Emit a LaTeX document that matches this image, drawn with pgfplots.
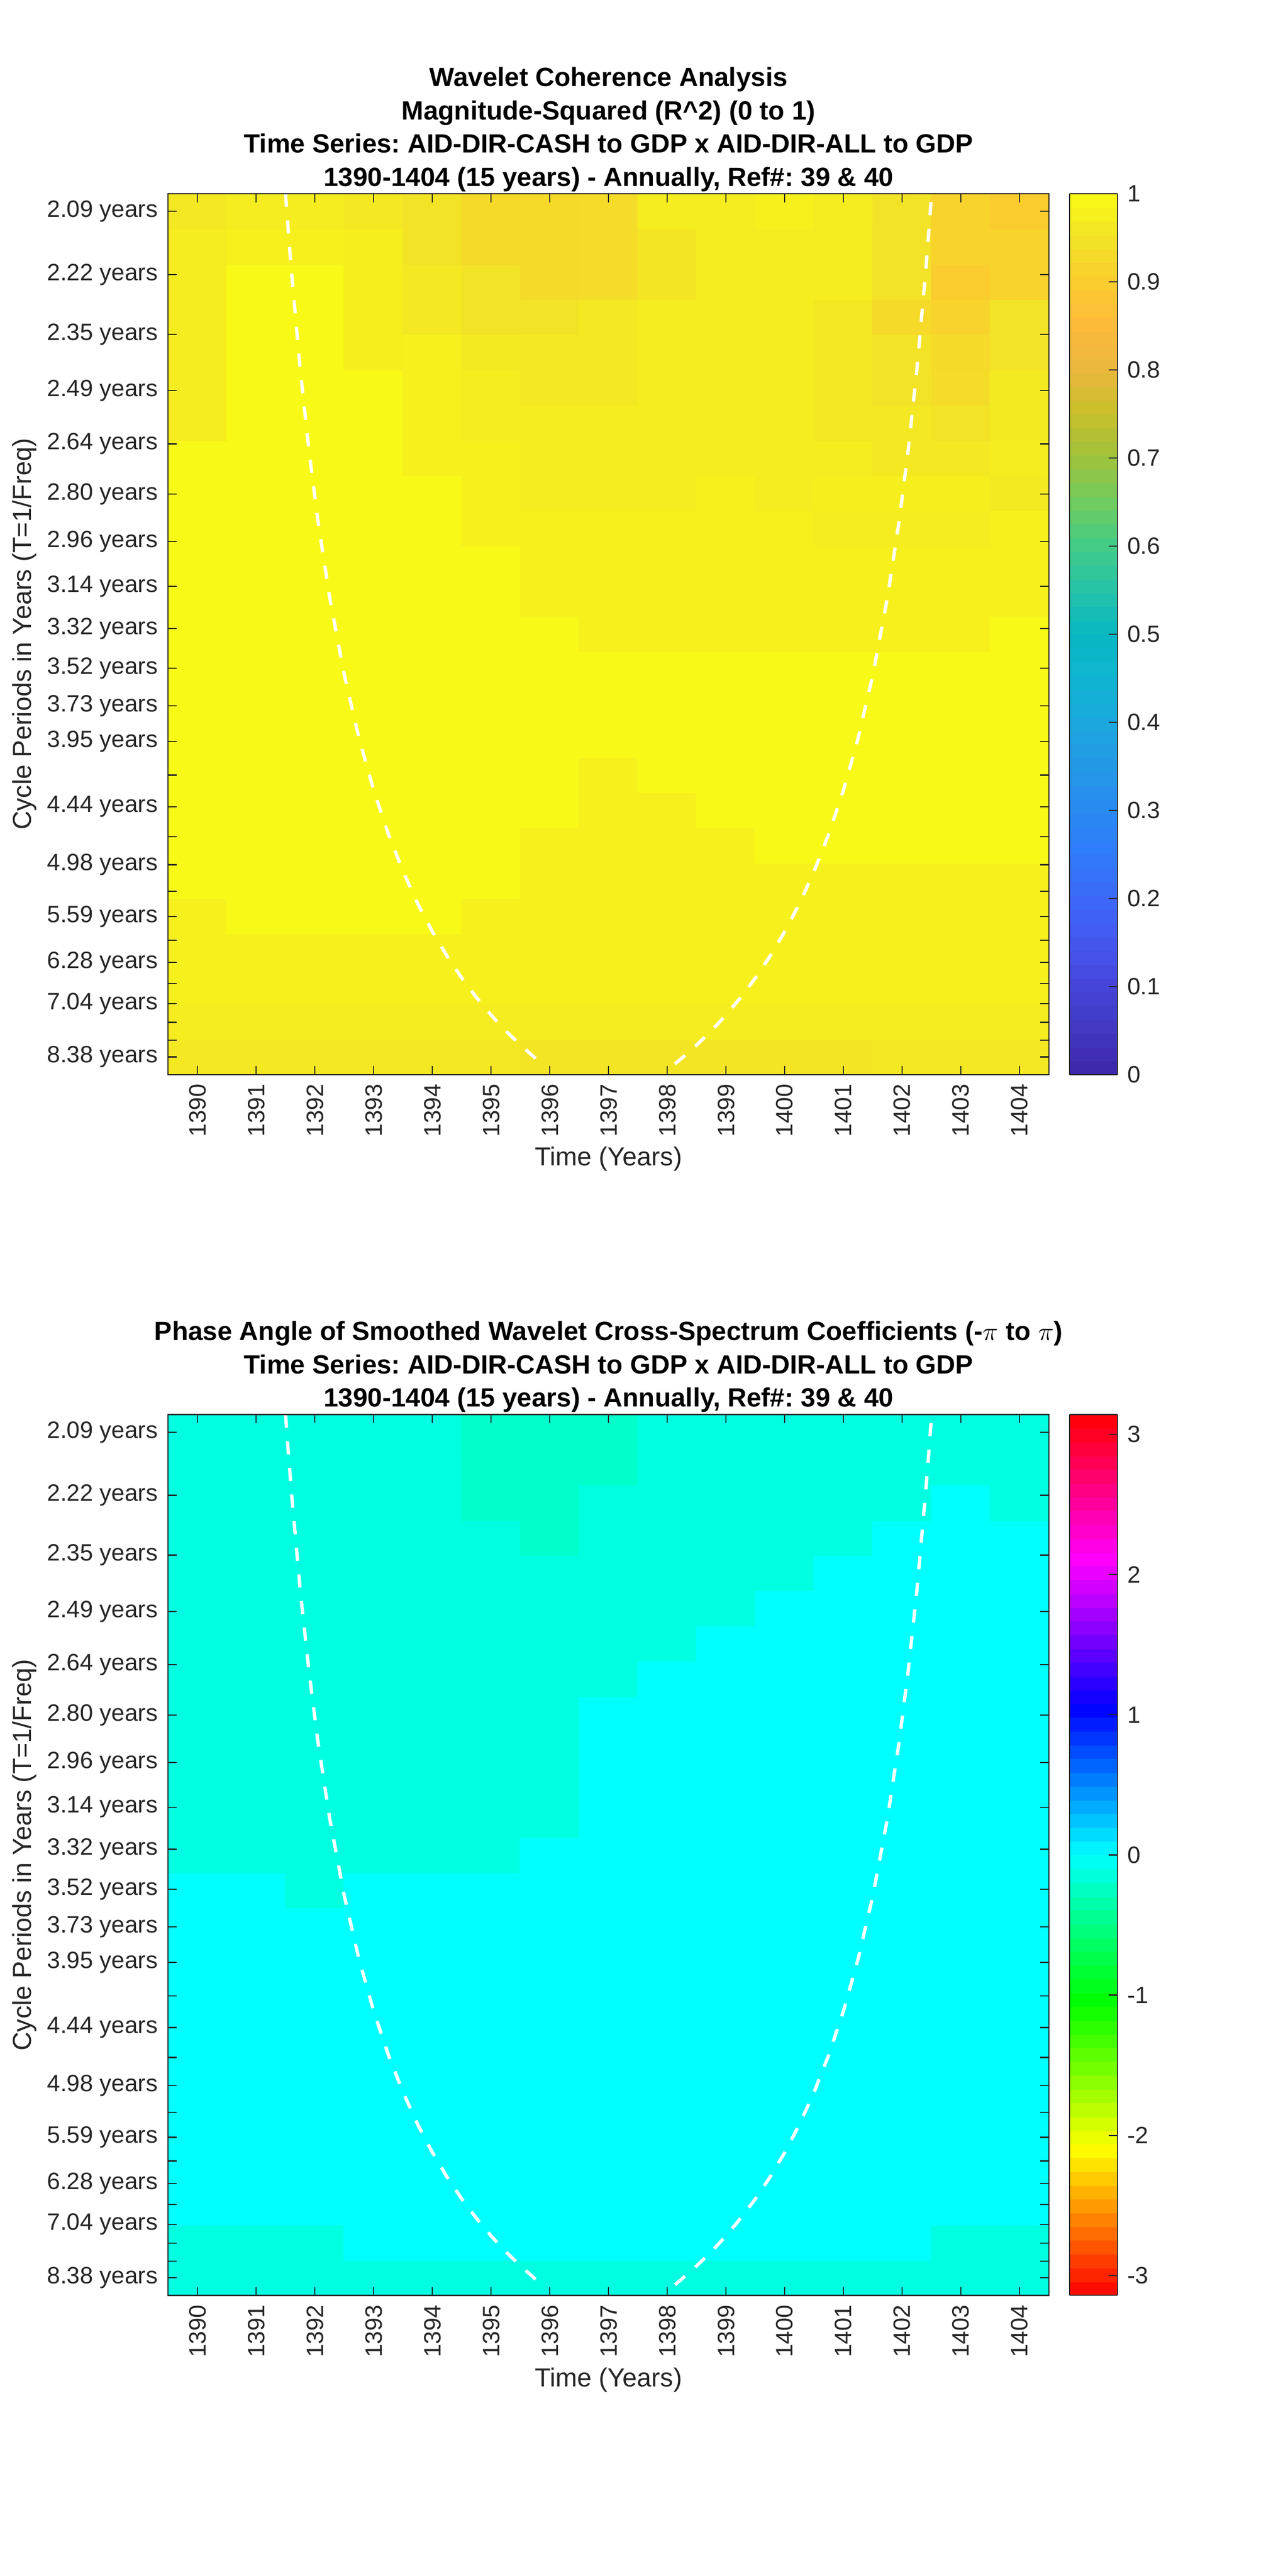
\documentclass[border=0pt]{standalone}
\usepackage{fontspec}
\setmainfont{Liberation Sans}
\usepackage{pgfplots}
\pgfplotsset{compat=1.18}
\frenchspacing
\definecolor{axgray}{HTML}{262626}
\pgfplotsset{
  colormap={parula}{
    rgb=(0.2422,0.1504,0.6603) rgb=(0.26,0.22,0.76) rgb=(0.27,0.27,0.85)
    rgb=(0.27,0.34,0.94) rgb=(0.24,0.41,0.98) rgb=(0.19,0.48,0.98)
    rgb=(0.16,0.54,0.94) rgb=(0.14,0.60,0.90) rgb=(0.11,0.66,0.87)
    rgb=(0.06,0.71,0.82) rgb=(0.03,0.72,0.76) rgb=(0.15,0.76,0.66)
    rgb=(0.26,0.80,0.53) rgb=(0.44,0.80,0.37) rgb=(0.62,0.76,0.24)
    rgb=(0.78,0.75,0.17) rgb=(0.92,0.72,0.24) rgb=(0.99,0.73,0.23)
    rgb=(0.98,0.80,0.18) rgb=(0.95,0.89,0.15) rgb=(0.9769,0.9839,0.0805)},
  colormap={hsvm}{rgb=(1,0,0) rgb=(1,1,0) rgb=(0,1,0) rgb=(0,1,1) rgb=(0,0,1) rgb=(1,0,1) rgb=(1,0,0)},
  wc/.style={
    scale only axis, width=372.44pt, height=372.44pt,
    xmin=1389.5, xmax=1404.5, ymin=-0.5, ymax=24.5,
    axis on top,
    xtick={1390,1391,1392,1393,1394,1395,1396,1397,1398,1399,1400,1401,1402,1403,1404},
    xticklabels={1390,1391,1392,1393,1394,1395,1396,1397,1398,1399,1400,1401,1402,1403,1404},
    ytick={0,0.476,0.980,1.514,2.079,2.679,3.314,3.986,4.699,5.454,6.254,7.102,8.000,8.951,9.960,11.027,12.159,13.357,14.627,15.973,17.399,18.909,20.509,22.204,24},
    yticklabels={8.38 years,{},{},7.04 years,{},6.28 years,{},5.59 years,{},4.98 years,{},4.44 years,{},3.95 years,3.73 years,3.52 years,3.32 years,3.14 years,2.96 years,2.80 years,2.64 years,2.49 years,2.35 years,2.22 years,2.09 years},
    tick align=inside, major tick length=3.66pt,
    axis line style={axgray, line width=0.5pt},
    tick style={axgray, line width=0.5pt},
    tick label style={font=\fontsize{10}{12}\selectfont, text=axgray},
    xticklabel style={rotate=90, anchor=east, inner sep=0pt, inner xsep=3.8pt},
    yticklabel style={anchor=east, inner sep=0pt, inner xsep=4.2pt},
    xlabel={Time (Years)},
    ylabel={Cycle Periods in Years (T=1/Freq)},
    label style={font=\fontsize{11}{13}\selectfont, text=axgray},
    xlabel style={at={(axis description cs:0.5,-0.0959)}, anchor=center},
    ylabel style={at={(axis description cs:-0.1628,0.5)}, anchor=center},
    colorbar,
    colorbar sampled,
    colorbar shift/.style={xshift=8.71pt},
  },
  coi/.style={white, line width=1.4pt, dash pattern=on 5.6pt off 5.7pt},
}
\begin{document}
\begin{tikzpicture}
\useasboundingbox (0,0) rectangle (544.4pt,-1089.1pt);
\fill[white] (0,0) rectangle (544.4pt,-1089.1pt);
% ---------- titles ----------
\begin{scope}[every node/.style={anchor=base, font=\fontsize{11.15}{13}\selectfont\bfseries}]
\node at (257.29pt,-36.58pt) {Wavelet Coherence Analysis};
\node at (257.29pt,-50.61pt) {Magnitude-Squared (R\textasciicircum{}2) (0 to 1)};
\node at (257.29pt,-64.63pt) {Time Series: AID-DIR-CASH to GDP x AID-DIR-ALL to GDP};
\node at (257.29pt,-78.65pt) {1390-1404 (15 years) - Annually, Ref\#: 39 \& 40};
\node at (257.29pt,-566.76pt) {Phase Angle of Smoothed Wavelet Cross-Spectrum Coefficients (-$\pi$ to $\pi$)};
\node at (257.29pt,-580.78pt) {Time Series: AID-DIR-CASH to GDP x AID-DIR-ALL to GDP};
\node at (257.29pt,-594.81pt) {1390-1404 (15 years) - Annually, Ref\#: 39 \& 40};
\end{scope}
% ---------- top axis ----------
\begin{axis}[wc, at={(71.07pt,-81.87pt)}, anchor=north west,
  colormap name=parula, point meta min=0, point meta max=1,
  colorbar style={at={(parent axis.north east)}, anchor=north west,
    width=20.2pt, samples=65,
    ytick={0,0.1,0.2,0.3,0.4,0.5,0.6,0.7,0.8,0.9,1},
    yticklabels={0,0.1,0.2,0.3,0.4,0.5,0.6,0.7,0.8,0.9,1},
    ytick pos=right, yticklabel pos=right,
    tick align=inside, major tick length=3.66pt,
    axis line style={axgray, line width=0.5pt},
    tick style={axgray, line width=0.5pt},
    yticklabel style={font=\fontsize{10}{12}\selectfont, text=axgray, anchor=west, inner sep=0pt, inner xsep=4pt}},
]
\addplot[matrix plot*, mesh/cols=15, point meta=explicit] table[row sep=\\, meta=c] {
x y c\\
1390 0 0.96\\ 1391 0 0.96\\ 1392 0 0.96\\ 1393 0 0.96\\ 1394 0 0.96\\ 1395 0 0.96\\ 1396 0 0.955\\ 1397 0 0.955\\ 1398 0 0.955\\ 1399 0 0.955\\ 1400 0 0.955\\ 1401 0 0.955\\ 1402 0 0.96\\ 1403 0 0.96\\ 1404 0 0.96\\
1390 1 0.97\\ 1391 1 0.97\\ 1392 1 0.97\\ 1393 1 0.97\\ 1394 1 0.97\\ 1395 1 0.97\\ 1396 1 0.97\\ 1397 1 0.97\\ 1398 1 0.97\\ 1399 1 0.97\\ 1400 1 0.97\\ 1401 1 0.97\\ 1402 1 0.97\\ 1403 1 0.97\\ 1404 1 0.97\\
1390 2 0.98\\ 1391 2 0.98\\ 1392 2 0.98\\ 1393 2 0.98\\ 1394 2 0.98\\ 1395 2 0.98\\ 1396 2 0.98\\ 1397 2 0.98\\ 1398 2 0.98\\ 1399 2 0.98\\ 1400 2 0.98\\ 1401 2 0.98\\ 1402 2 0.98\\ 1403 2 0.98\\ 1404 2 0.98\\
1390 3 0.98\\ 1391 3 0.98\\ 1392 3 0.98\\ 1393 3 0.98\\ 1394 3 0.98\\ 1395 3 0.98\\ 1396 3 0.98\\ 1397 3 0.98\\ 1398 3 0.98\\ 1399 3 0.98\\ 1400 3 0.98\\ 1401 3 0.98\\ 1402 3 0.98\\ 1403 3 0.98\\ 1404 3 0.98\\
1390 4 0.98\\ 1391 4 0.995\\ 1392 4 0.995\\ 1393 4 0.995\\ 1394 4 0.995\\ 1395 4 0.98\\ 1396 4 0.98\\ 1397 4 0.98\\ 1398 4 0.98\\ 1399 4 0.98\\ 1400 4 0.98\\ 1401 4 0.98\\ 1402 4 0.98\\ 1403 4 0.98\\ 1404 4 0.98\\
1390 5 0.995\\ 1391 5 0.995\\ 1392 5 0.995\\ 1393 5 0.995\\ 1394 5 0.995\\ 1395 5 0.995\\ 1396 5 0.98\\ 1397 5 0.98\\ 1398 5 0.98\\ 1399 5 0.98\\ 1400 5 0.98\\ 1401 5 0.98\\ 1402 5 0.98\\ 1403 5 0.98\\ 1404 5 0.98\\
1390 6 0.995\\ 1391 6 0.995\\ 1392 6 0.995\\ 1393 6 0.995\\ 1394 6 0.995\\ 1395 6 0.995\\ 1396 6 0.98\\ 1397 6 0.98\\ 1398 6 0.98\\ 1399 6 0.98\\ 1400 6 0.995\\ 1401 6 0.995\\ 1402 6 0.995\\ 1403 6 0.995\\ 1404 6 0.995\\
1390 7 0.995\\ 1391 7 0.995\\ 1392 7 0.995\\ 1393 7 0.995\\ 1394 7 0.995\\ 1395 7 0.995\\ 1396 7 0.995\\ 1397 7 0.98\\ 1398 7 0.98\\ 1399 7 0.995\\ 1400 7 0.995\\ 1401 7 0.995\\ 1402 7 0.995\\ 1403 7 0.995\\ 1404 7 0.995\\
1390 8 0.995\\ 1391 8 0.995\\ 1392 8 0.995\\ 1393 8 0.995\\ 1394 8 0.995\\ 1395 8 0.995\\ 1396 8 0.995\\ 1397 8 0.98\\ 1398 8 0.995\\ 1399 8 0.995\\ 1400 8 0.995\\ 1401 8 0.995\\ 1402 8 0.995\\ 1403 8 0.995\\ 1404 8 0.995\\
1390 9 0.995\\ 1391 9 0.995\\ 1392 9 0.995\\ 1393 9 0.995\\ 1394 9 0.995\\ 1395 9 0.995\\ 1396 9 0.995\\ 1397 9 0.995\\ 1398 9 0.995\\ 1399 9 0.995\\ 1400 9 0.995\\ 1401 9 0.995\\ 1402 9 0.995\\ 1403 9 0.995\\ 1404 9 0.995\\
1390 10 0.995\\ 1391 10 0.995\\ 1392 10 0.995\\ 1393 10 0.995\\ 1394 10 0.995\\ 1395 10 0.995\\ 1396 10 0.995\\ 1397 10 0.995\\ 1398 10 0.995\\ 1399 10 0.995\\ 1400 10 0.995\\ 1401 10 0.995\\ 1402 10 0.995\\ 1403 10 0.995\\ 1404 10 0.995\\
1390 11 0.995\\ 1391 11 0.995\\ 1392 11 0.995\\ 1393 11 0.995\\ 1394 11 0.995\\ 1395 11 0.995\\ 1396 11 0.995\\ 1397 11 0.995\\ 1398 11 0.995\\ 1399 11 0.995\\ 1400 11 0.995\\ 1401 11 0.995\\ 1402 11 0.995\\ 1403 11 0.995\\ 1404 11 0.995\\
1390 12 0.995\\ 1391 12 0.995\\ 1392 12 0.995\\ 1393 12 0.995\\ 1394 12 0.995\\ 1395 12 0.995\\ 1396 12 0.995\\ 1397 12 0.98\\ 1398 12 0.98\\ 1399 12 0.98\\ 1400 12 0.98\\ 1401 12 0.98\\ 1402 12 0.98\\ 1403 12 0.98\\ 1404 12 0.995\\
1390 13 0.995\\ 1391 13 0.995\\ 1392 13 0.995\\ 1393 13 0.995\\ 1394 13 0.995\\ 1395 13 0.995\\ 1396 13 0.98\\ 1397 13 0.98\\ 1398 13 0.98\\ 1399 13 0.98\\ 1400 13 0.98\\ 1401 13 0.98\\ 1402 13 0.98\\ 1403 13 0.98\\ 1404 13 0.98\\
1390 14 0.995\\ 1391 14 0.995\\ 1392 14 0.995\\ 1393 14 0.995\\ 1394 14 0.995\\ 1395 14 0.995\\ 1396 14 0.98\\ 1397 14 0.98\\ 1398 14 0.98\\ 1399 14 0.98\\ 1400 14 0.98\\ 1401 14 0.98\\ 1402 14 0.98\\ 1403 14 0.98\\ 1404 14 0.98\\
1390 15 0.995\\ 1391 15 0.995\\ 1392 15 0.995\\ 1393 15 0.995\\ 1394 15 0.995\\ 1395 15 0.98\\ 1396 15 0.98\\ 1397 15 0.98\\ 1398 15 0.98\\ 1399 15 0.98\\ 1400 15 0.98\\ 1401 15 0.97\\ 1402 15 0.97\\ 1403 15 0.97\\ 1404 15 0.98\\
1390 16 0.995\\ 1391 16 0.995\\ 1392 16 0.995\\ 1393 16 0.995\\ 1394 16 0.995\\ 1395 16 0.98\\ 1396 16 0.97\\ 1397 16 0.97\\ 1398 16 0.97\\ 1399 16 0.98\\ 1400 16 0.97\\ 1401 16 0.975\\ 1402 16 0.975\\ 1403 16 0.975\\ 1404 16 0.965\\
1390 17 0.995\\ 1391 17 0.995\\ 1392 17 0.995\\ 1393 17 0.995\\ 1394 17 0.98\\ 1395 17 0.98\\ 1396 17 0.97\\ 1397 17 0.97\\ 1398 17 0.97\\ 1399 17 0.97\\ 1400 17 0.97\\ 1401 17 0.97\\ 1402 17 0.96\\ 1403 17 0.96\\ 1404 17 0.97\\
1390 18 0.97\\ 1391 18 0.995\\ 1392 18 0.995\\ 1393 18 0.995\\ 1394 18 0.98\\ 1395 18 0.97\\ 1396 18 0.97\\ 1397 18 0.97\\ 1398 18 0.97\\ 1399 18 0.97\\ 1400 18 0.97\\ 1401 18 0.96\\ 1402 18 0.96\\ 1403 18 0.95\\ 1404 18 0.965\\
1390 19 0.97\\ 1391 19 0.995\\ 1392 19 0.995\\ 1393 19 0.995\\ 1394 19 0.98\\ 1395 19 0.97\\ 1396 19 0.96\\ 1397 19 0.96\\ 1398 19 0.97\\ 1399 19 0.97\\ 1400 19 0.97\\ 1401 19 0.96\\ 1402 19 0.95\\ 1403 19 0.935\\ 1404 19 0.965\\
1390 20 0.97\\ 1391 20 0.995\\ 1392 20 0.995\\ 1393 20 0.975\\ 1394 20 0.98\\ 1395 20 0.965\\ 1396 20 0.96\\ 1397 20 0.96\\ 1398 20 0.97\\ 1399 20 0.97\\ 1400 20 0.97\\ 1401 20 0.96\\ 1402 20 0.95\\ 1403 20 0.93\\ 1404 20 0.95\\
1390 21 0.97\\ 1391 21 0.995\\ 1392 21 0.995\\ 1393 21 0.975\\ 1394 21 0.96\\ 1395 21 0.95\\ 1396 21 0.95\\ 1397 21 0.96\\ 1398 21 0.97\\ 1399 21 0.97\\ 1400 21 0.97\\ 1401 21 0.96\\ 1402 21 0.93\\ 1403 21 0.915\\ 1404 21 0.95\\
1390 22 0.97\\ 1391 22 0.995\\ 1392 22 0.995\\ 1393 22 0.975\\ 1394 22 0.96\\ 1395 22 0.95\\ 1396 22 0.93\\ 1397 22 0.935\\ 1398 22 0.955\\ 1399 22 0.97\\ 1400 22 0.97\\ 1401 22 0.97\\ 1402 22 0.95\\ 1403 22 0.90\\ 1404 22 0.915\\
1390 23 0.97\\ 1391 23 0.98\\ 1392 23 0.98\\ 1393 23 0.975\\ 1394 23 0.95\\ 1395 23 0.93\\ 1396 23 0.93\\ 1397 23 0.935\\ 1398 23 0.955\\ 1399 23 0.97\\ 1400 23 0.97\\ 1401 23 0.97\\ 1402 23 0.95\\ 1403 23 0.915\\ 1404 23 0.915\\
1390 24 0.96\\ 1391 24 0.97\\ 1392 24 0.97\\ 1393 24 0.96\\ 1394 24 0.95\\ 1395 24 0.93\\ 1396 24 0.93\\ 1397 24 0.935\\ 1398 24 0.97\\ 1399 24 0.97\\ 1400 24 0.98\\ 1401 24 0.97\\ 1402 24 0.95\\ 1403 24 0.915\\ 1404 24 0.90\\
};
\addplot[coi] coordinates {(1391.50,24.50) (1391.55,23.36) (1391.60,22.30) (1391.75,19.51) (1391.90,17.19) (1392.05,15.23) (1392.25,13.05) (1392.50,10.84) (1392.75,9.05) (1393.00,7.57) (1393.25,6.33) (1393.50,5.27) (1393.75,4.35) (1394.00,3.56) (1394.25,2.86) (1394.50,2.24) (1394.75,1.69) (1395.00,1.19) (1395.25,0.74) (1395.50,0.34) (1395.75,-0.03) (1395.90,-0.24)};
\addplot[coi] coordinates {(1402.49,24.26) (1402.45,23.36) (1402.40,22.30) (1402.25,19.51) (1402.10,17.19) (1401.95,15.23) (1401.75,13.05) (1401.50,10.84) (1401.25,9.05) (1401.00,7.57) (1400.75,6.33) (1400.50,5.27) (1400.25,4.35) (1400.00,3.56) (1399.75,2.86) (1399.50,2.24) (1399.25,1.69) (1399.00,1.19) (1398.75,0.74) (1398.50,0.34) (1398.25,-0.03) (1398.10,-0.24)};
\end{axis}
% ---------- bottom axis ----------
\begin{axis}[wc, at={(71.07pt,-598.03pt)}, anchor=north west,
  colormap name=hsvm, point meta min=-3.14159, point meta max=3.14159,
  colorbar style={at={(parent axis.north east)}, anchor=north west,
    width=20.2pt, samples=65,
    ytick={-3,-2,-1,0,1,2,3},
    yticklabels={-3,-2,-1,0,1,2,3},
    ytick pos=right, yticklabel pos=right,
    tick align=inside, major tick length=3.66pt,
    axis line style={axgray, line width=0.5pt},
    tick style={axgray, line width=0.5pt},
    yticklabel style={font=\fontsize{10}{12}\selectfont, text=axgray, anchor=west, inner sep=0pt, inner xsep=4pt}},
]
\addplot[matrix plot*, mesh/cols=15, point meta=explicit] table[row sep=\\, meta=c] {
x y c\\
1390 0 -0.12\\ 1391 0 -0.12\\ 1392 0 -0.12\\ 1393 0 -0.12\\ 1394 0 -0.12\\ 1395 0 -0.12\\ 1396 0 -0.12\\ 1397 0 -0.12\\ 1398 0 -0.12\\ 1399 0 -0.12\\ 1400 0 -0.12\\ 1401 0 -0.12\\ 1402 0 -0.12\\ 1403 0 -0.12\\ 1404 0 -0.12\\
1390 1 -0.12\\ 1391 1 -0.12\\ 1392 1 -0.12\\ 1393 1 0\\ 1394 1 0\\ 1395 1 0\\ 1396 1 0\\ 1397 1 0\\ 1398 1 0\\ 1399 1 0\\ 1400 1 0\\ 1401 1 0\\ 1402 1 0\\ 1403 1 -0.12\\ 1404 1 -0.12\\
1390 2 0\\ 1391 2 0\\ 1392 2 0\\ 1393 2 0\\ 1394 2 0\\ 1395 2 0\\ 1396 2 0\\ 1397 2 0\\ 1398 2 0\\ 1399 2 0\\ 1400 2 0\\ 1401 2 0\\ 1402 2 0\\ 1403 2 0\\ 1404 2 0\\
1390 3 0\\ 1391 3 0\\ 1392 3 0\\ 1393 3 0\\ 1394 3 0\\ 1395 3 0\\ 1396 3 0\\ 1397 3 0\\ 1398 3 0\\ 1399 3 0\\ 1400 3 0\\ 1401 3 0\\ 1402 3 0\\ 1403 3 0\\ 1404 3 0\\
1390 4 0\\ 1391 4 0\\ 1392 4 0\\ 1393 4 0\\ 1394 4 0\\ 1395 4 0\\ 1396 4 0\\ 1397 4 0\\ 1398 4 0\\ 1399 4 0\\ 1400 4 0\\ 1401 4 0\\ 1402 4 0\\ 1403 4 0\\ 1404 4 0\\
1390 5 0\\ 1391 5 0\\ 1392 5 0\\ 1393 5 0\\ 1394 5 0\\ 1395 5 0\\ 1396 5 0\\ 1397 5 0\\ 1398 5 0\\ 1399 5 0\\ 1400 5 0\\ 1401 5 0\\ 1402 5 0\\ 1403 5 0\\ 1404 5 0\\
1390 6 0\\ 1391 6 0\\ 1392 6 0\\ 1393 6 0\\ 1394 6 0\\ 1395 6 0\\ 1396 6 0\\ 1397 6 0\\ 1398 6 0\\ 1399 6 0\\ 1400 6 0\\ 1401 6 0\\ 1402 6 0\\ 1403 6 0\\ 1404 6 0\\
1390 7 0\\ 1391 7 0\\ 1392 7 0\\ 1393 7 0\\ 1394 7 0\\ 1395 7 0\\ 1396 7 0\\ 1397 7 0\\ 1398 7 0\\ 1399 7 0\\ 1400 7 0\\ 1401 7 0\\ 1402 7 0\\ 1403 7 0\\ 1404 7 0\\
1390 8 0\\ 1391 8 0\\ 1392 8 0\\ 1393 8 0\\ 1394 8 0\\ 1395 8 0\\ 1396 8 0\\ 1397 8 0\\ 1398 8 0\\ 1399 8 0\\ 1400 8 0\\ 1401 8 0\\ 1402 8 0\\ 1403 8 0\\ 1404 8 0\\
1390 9 0\\ 1391 9 0\\ 1392 9 0\\ 1393 9 0\\ 1394 9 0\\ 1395 9 0\\ 1396 9 0\\ 1397 9 0\\ 1398 9 0\\ 1399 9 0\\ 1400 9 0\\ 1401 9 0\\ 1402 9 0\\ 1403 9 0\\ 1404 9 0\\
1390 10 0\\ 1391 10 0\\ 1392 10 0\\ 1393 10 0\\ 1394 10 0\\ 1395 10 0\\ 1396 10 0\\ 1397 10 0\\ 1398 10 0\\ 1399 10 0\\ 1400 10 0\\ 1401 10 0\\ 1402 10 0\\ 1403 10 0\\ 1404 10 0\\
1390 11 0\\ 1391 11 0\\ 1392 11 -0.12\\ 1393 11 0\\ 1394 11 0\\ 1395 11 0\\ 1396 11 0\\ 1397 11 0\\ 1398 11 0\\ 1399 11 0\\ 1400 11 0\\ 1401 11 0\\ 1402 11 0\\ 1403 11 0\\ 1404 11 0\\
1390 12 -0.12\\ 1391 12 -0.12\\ 1392 12 -0.12\\ 1393 12 -0.12\\ 1394 12 -0.12\\ 1395 12 -0.12\\ 1396 12 0\\ 1397 12 0\\ 1398 12 0\\ 1399 12 0\\ 1400 12 0\\ 1401 12 0\\ 1402 12 0\\ 1403 12 0\\ 1404 12 0\\
1390 13 -0.12\\ 1391 13 -0.12\\ 1392 13 -0.12\\ 1393 13 -0.12\\ 1394 13 -0.12\\ 1395 13 -0.12\\ 1396 13 -0.12\\ 1397 13 0\\ 1398 13 0\\ 1399 13 0\\ 1400 13 0\\ 1401 13 0\\ 1402 13 0\\ 1403 13 0\\ 1404 13 0\\
1390 14 -0.12\\ 1391 14 -0.12\\ 1392 14 -0.12\\ 1393 14 -0.12\\ 1394 14 -0.12\\ 1395 14 -0.12\\ 1396 14 -0.12\\ 1397 14 0\\ 1398 14 0\\ 1399 14 0\\ 1400 14 0\\ 1401 14 0\\ 1402 14 0\\ 1403 14 0\\ 1404 14 0\\
1390 15 -0.12\\ 1391 15 -0.12\\ 1392 15 -0.12\\ 1393 15 -0.12\\ 1394 15 -0.12\\ 1395 15 -0.12\\ 1396 15 -0.12\\ 1397 15 0\\ 1398 15 0\\ 1399 15 0\\ 1400 15 0\\ 1401 15 0\\ 1402 15 0\\ 1403 15 0\\ 1404 15 0\\
1390 16 -0.12\\ 1391 16 -0.12\\ 1392 16 -0.12\\ 1393 16 -0.12\\ 1394 16 -0.12\\ 1395 16 -0.12\\ 1396 16 -0.12\\ 1397 16 0\\ 1398 16 0\\ 1399 16 0\\ 1400 16 0\\ 1401 16 0\\ 1402 16 0\\ 1403 16 0\\ 1404 16 0\\
1390 17 -0.12\\ 1391 17 -0.12\\ 1392 17 -0.12\\ 1393 17 -0.12\\ 1394 17 -0.12\\ 1395 17 -0.12\\ 1396 17 -0.12\\ 1397 17 -0.12\\ 1398 17 0\\ 1399 17 0\\ 1400 17 0\\ 1401 17 0\\ 1402 17 0\\ 1403 17 0\\ 1404 17 0\\
1390 18 -0.12\\ 1391 18 -0.12\\ 1392 18 -0.12\\ 1393 18 -0.12\\ 1394 18 -0.12\\ 1395 18 -0.12\\ 1396 18 -0.12\\ 1397 18 -0.12\\ 1398 18 -0.12\\ 1399 18 0\\ 1400 18 0\\ 1401 18 0\\ 1402 18 0\\ 1403 18 0\\ 1404 18 0\\
1390 19 -0.12\\ 1391 19 -0.12\\ 1392 19 -0.12\\ 1393 19 -0.12\\ 1394 19 -0.12\\ 1395 19 -0.12\\ 1396 19 -0.12\\ 1397 19 -0.12\\ 1398 19 -0.12\\ 1399 19 -0.12\\ 1400 19 0\\ 1401 19 0\\ 1402 19 0\\ 1403 19 0\\ 1404 19 0\\
1390 20 -0.12\\ 1391 20 -0.12\\ 1392 20 -0.12\\ 1393 20 -0.12\\ 1394 20 -0.12\\ 1395 20 -0.12\\ 1396 20 -0.12\\ 1397 20 -0.12\\ 1398 20 -0.12\\ 1399 20 -0.12\\ 1400 20 -0.12\\ 1401 20 0\\ 1402 20 0\\ 1403 20 0\\ 1404 20 0\\
1390 21 -0.12\\ 1391 21 -0.12\\ 1392 21 -0.12\\ 1393 21 -0.12\\ 1394 21 -0.12\\ 1395 21 -0.12\\ 1396 21 -0.21\\ 1397 21 -0.12\\ 1398 21 -0.12\\ 1399 21 -0.12\\ 1400 21 -0.12\\ 1401 21 -0.12\\ 1402 21 0\\ 1403 21 0\\ 1404 21 0\\
1390 22 -0.12\\ 1391 22 -0.12\\ 1392 22 -0.12\\ 1393 22 -0.12\\ 1394 22 -0.12\\ 1395 22 -0.21\\ 1396 22 -0.21\\ 1397 22 -0.12\\ 1398 22 -0.12\\ 1399 22 -0.12\\ 1400 22 -0.12\\ 1401 22 -0.12\\ 1402 22 -0.12\\ 1403 22 0\\ 1404 22 -0.12\\
1390 23 -0.12\\ 1391 23 -0.12\\ 1392 23 -0.12\\ 1393 23 -0.12\\ 1394 23 -0.12\\ 1395 23 -0.21\\ 1396 23 -0.21\\ 1397 23 -0.21\\ 1398 23 -0.12\\ 1399 23 -0.12\\ 1400 23 -0.12\\ 1401 23 -0.12\\ 1402 23 -0.12\\ 1403 23 -0.12\\ 1404 23 -0.12\\
1390 24 -0.12\\ 1391 24 -0.12\\ 1392 24 -0.12\\ 1393 24 -0.12\\ 1394 24 -0.12\\ 1395 24 -0.21\\ 1396 24 -0.21\\ 1397 24 -0.21\\ 1398 24 -0.12\\ 1399 24 -0.12\\ 1400 24 -0.12\\ 1401 24 -0.12\\ 1402 24 -0.12\\ 1403 24 -0.12\\ 1404 24 -0.12\\
};
\addplot[coi] coordinates {(1391.50,24.50) (1391.55,23.36) (1391.60,22.30) (1391.75,19.51) (1391.90,17.19) (1392.05,15.23) (1392.25,13.05) (1392.50,10.84) (1392.75,9.05) (1393.00,7.57) (1393.25,6.33) (1393.50,5.27) (1393.75,4.35) (1394.00,3.56) (1394.25,2.86) (1394.50,2.24) (1394.75,1.69) (1395.00,1.19) (1395.25,0.74) (1395.50,0.34) (1395.75,-0.03) (1395.90,-0.24)};
\addplot[coi] coordinates {(1402.49,24.26) (1402.45,23.36) (1402.40,22.30) (1402.25,19.51) (1402.10,17.19) (1401.95,15.23) (1401.75,13.05) (1401.50,10.84) (1401.25,9.05) (1401.00,7.57) (1400.75,6.33) (1400.50,5.27) (1400.25,4.35) (1400.00,3.56) (1399.75,2.86) (1399.50,2.24) (1399.25,1.69) (1399.00,1.19) (1398.75,0.74) (1398.50,0.34) (1398.25,-0.03) (1398.10,-0.24)};
\end{axis}
\end{tikzpicture}
\end{document}
